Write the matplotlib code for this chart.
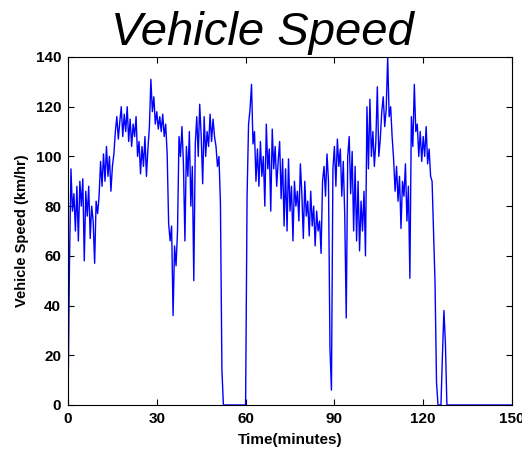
import numpy as np
import matplotlib
matplotlib.use("Agg")
import matplotlib.pyplot as plt

speed = [
    0, 57, 95, 78, 85, 70, 88, 66, 90, 80,          # 0 - 4.5
    91, 58, 86, 76, 88, 67, 80, 74, 57, 82,         # 5 - 9.5
    77, 84, 98, 88, 101, 90, 104, 92, 100, 86,      # 10 - 14.5
    96, 101, 110, 116, 107, 114, 120, 108, 117, 110,  # 15 - 19.5
    120, 106, 115, 104, 113, 108, 116, 100, 106, 93,  # 20 - 24.5
    104, 96, 108, 92, 103, 112, 131, 118, 124, 113,   # 25 - 29.5
    118, 111, 116, 110, 117, 108, 113, 101, 73, 66,   # 30 - 34.5
    72, 36, 64, 56, 70, 108, 100, 112, 97, 66,        # 35 - 39.5
    104, 92, 110, 80, 96, 50, 105, 116, 100, 121,     # 40 - 44.5
    108, 89, 116, 100, 110, 104, 117, 106, 115, 108,  # 45 - 49.5
    104, 96, 100, 81, 14, 0, 0, 0, 0, 0,              # 50 - 54.5
    0, 0, 0, 0, 0, 0, 0, 0, 0, 0,                     # 55 - 59.5
    0, 84, 113, 119, 129, 105, 110, 90, 103, 88,      # 60 - 64.5
    106, 92, 100, 80, 113, 95, 103, 78, 111, 95,      # 65 - 69.5
    104, 88, 98, 106, 83, 99, 72, 95, 70, 99,         # 70 - 74.5
    78, 88, 66, 90, 80, 86, 74, 97, 85, 67,           # 75 - 79.5
    90, 76, 82, 68, 86, 72, 80, 64, 78, 70,           # 80 - 84.5
    74, 61, 90, 96, 84, 101, 90, 23, 6, 95,           # 85 - 89.5
    104, 88, 107, 96, 103, 84, 98, 76, 35, 100,       # 90 - 94.5
    108, 85, 102, 70, 96, 66, 90, 62, 82, 70,         # 95 - 99.5
    86, 60, 120, 95, 123, 100, 110, 96, 106, 128,     # 100 - 104.5
    100, 107, 118, 124, 112, 119, 140, 116, 120, 108, # 105 - 109.5
    99, 86, 96, 82, 92, 71, 90, 84, 97, 74,           # 110 - 114.5
    88, 51, 116, 104, 129, 110, 113, 100, 110, 98,    # 115 - 119.5
    108, 100, 112, 97, 103, 92, 90, 69, 49, 9,        # 120 - 124.5
    0, 0, 0, 20, 38, 25, 0, 0, 0, 0,                  # 125 - 129.5
    0, 0, 0, 0, 0, 0, 0, 0, 0, 0,                     # 130 - 134.5
    0, 0, 0, 0, 0, 0, 0, 0, 0, 0,                     # 135 - 139.5
    0, 0, 0, 0, 0, 0, 0, 0, 0, 0,                     # 140 - 144.5
    0, 0, 0, 0, 0, 0, 0, 0, 0, 0,                     # 145 - 149.5
    0,                                                # 150
]
time_min = np.arange(len(speed)) * 0.5

x_ticks = [0, 30, 60, 90, 120, 150]
y_ticks = [0, 20, 40, 60, 80, 100, 120, 140]

W, H = 522, 449
fig = plt.figure(figsize=(W / 100, H / 100), dpi=100)
ax = fig.add_axes([68 / W, 1 - 405 / H, (512 - 68) / W, (405 - 57) / H])

ax.plot(time_min, speed, color="#0000ff", lw=1.0)
ax.set_xlim(0, 150)
ax.set_ylim(0, 140)
ax.set_xticks(x_ticks)
ax.set_yticks(y_ticks)
ax.tick_params(direction="in", top=True, right=True, length=4, width=0.8,
               labelsize=11, pad=5)
for lab in ax.get_xticklabels() + ax.get_yticklabels():
    lab.set_fontweight("bold")
    lab.set_family("Liberation Sans")
for s in ax.spines.values():
    s.set_linewidth(0.8)

ax.set_xlabel("Time(minutes)", fontsize=11, fontweight="bold",
              family="Liberation Sans", labelpad=5)
ax.set_ylabel("Vehicle Speed (km/hr)", fontsize=10.5, fontweight="bold",
              family="Liberation Sans", labelpad=5)

fig.text(262 / W, 1 - 45 / H, "Vehicle Speed", fontsize=34, style="italic",
         family="Liberation Sans", ha="center", va="baseline")

fig.savefig("out.png", dpi=100)
